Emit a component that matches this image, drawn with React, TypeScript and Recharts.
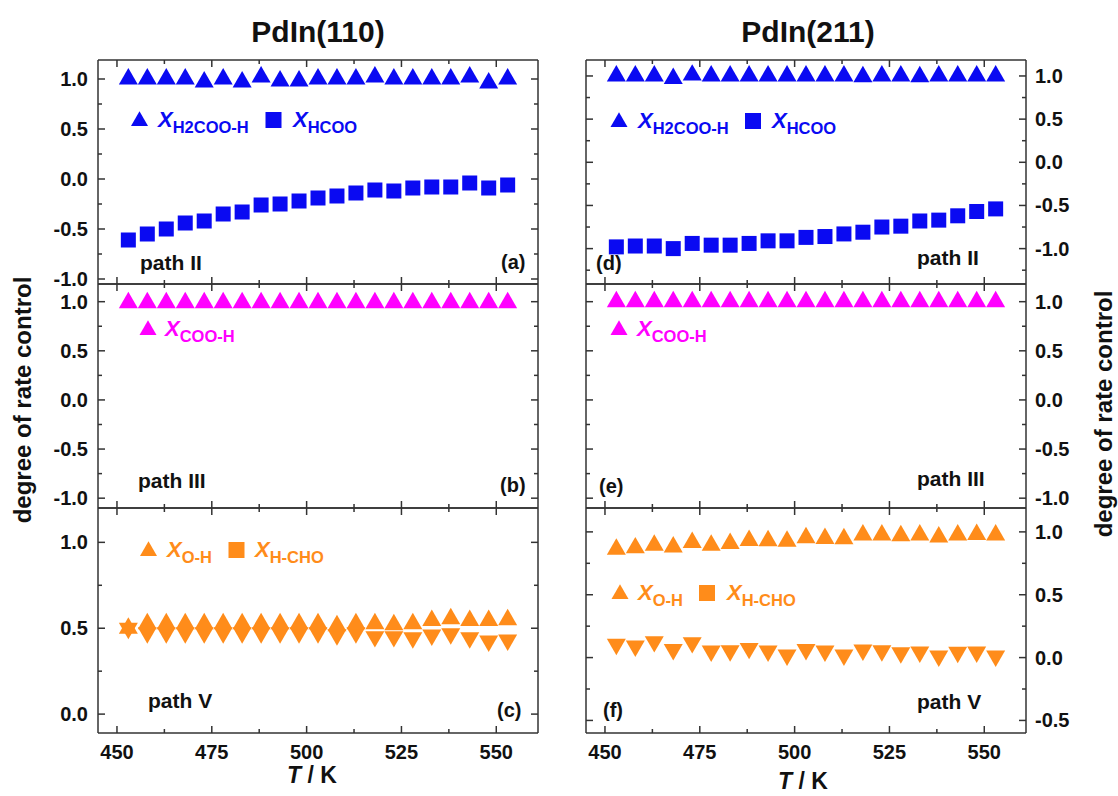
import React from 'react';
import { ScatterChart, Scatter, XAxis, YAxis } from 'recharts';

// temperatures (K) shared by all panels
const T = [453, 458, 463, 468, 473, 478, 483, 488, 493, 498, 503, 508, 513, 518, 523, 528, 533, 538, 543, 548, 553];

// PdIn(110)
const aH2COOH = [1.0, 1.0, 1.0, 1.0, 0.97, 1.0, 0.97, 1.02, 0.98, 0.98, 1.0, 1.0, 1.0, 1.02, 1.0, 1.0, 1.0, 1.0, 1.02, 0.96, 1.0];
const aHCOO = [-0.61, -0.55, -0.5, -0.44, -0.42, -0.35, -0.33, -0.26, -0.25, -0.22, -0.19, -0.17, -0.14, -0.11, -0.12, -0.09, -0.08, -0.08, -0.04, -0.09, -0.06];
const bCOOH = [0.99, 0.99, 0.99, 0.99, 0.99, 0.99, 0.99, 0.99, 0.99, 0.99, 0.99, 0.99, 0.99, 0.99, 0.99, 0.99, 0.99, 0.99, 0.99, 0.99, 0.99];
const cOH = [0.5, 0.526, 0.526, 0.526, 0.526, 0.526, 0.526, 0.526, 0.526, 0.526, 0.526, 0.515, 0.526, 0.526, 0.52, 0.526, 0.545, 0.555, 0.545, 0.545, 0.55];
const cHCHO = [0.5, 0.474, 0.474, 0.474, 0.474, 0.474, 0.474, 0.474, 0.474, 0.474, 0.474, 0.462, 0.474, 0.451, 0.451, 0.445, 0.46, 0.468, 0.445, 0.426, 0.431];

// PdIn(211)
const dH2COOH = [1.0, 1.0, 1.0, 0.97, 1.01, 1.0, 1.0, 1.0, 1.0, 1.0, 1.0, 1.0, 1.0, 0.99, 1.0, 1.0, 0.99, 1.0, 1.0, 1.0, 1.0];
const dHCOO = [-0.98, -0.97, -0.97, -1.0, -0.94, -0.96, -0.96, -0.94, -0.91, -0.91, -0.87, -0.86, -0.83, -0.81, -0.75, -0.74, -0.68, -0.67, -0.62, -0.57, -0.54];
const eCOOH = [1.0, 1.0, 1.0, 1.0, 1.0, 1.0, 1.0, 1.0, 1.0, 1.0, 1.0, 1.0, 1.0, 1.0, 1.0, 1.0, 1.0, 1.0, 1.0, 1.0, 1.0];
const fOH = [0.862, 0.873, 0.894, 0.88, 0.916, 0.894, 0.908, 0.932, 0.93, 0.925, 0.954, 0.948, 0.945, 0.975, 0.975, 0.97, 0.975, 0.96, 0.975, 0.98, 0.975];
const fHCHO = [0.106, 0.092, 0.127, 0.065, 0.119, 0.052, 0.055, 0.073, 0.052, 0.02, 0.065, 0.052, 0.02, 0.06, 0.055, 0.038, 0.045, 0.012, 0.043, 0.045, 0.012];

// axes
const xDomain = [445, 561];
const xTicks = [450, 462.5, 475, 487.5, 500, 512.5, 525, 537.5, 550];
const yTicksFull = [-1, -0.75, -0.5, -0.25, 0, 0.25, 0.5, 0.75, 1];
const yTicksD = [-1.25, -1, -0.75, -0.5, -0.25, 0, 0.25, 0.5, 0.75, 1];
const yTicksC = [0, 0.25, 0.5, 0.75, 1];
const yTicksF = [-0.5, -0.25, 0, 0.25, 0.5, 0.75, 1];

const BLUE = '#0a0af2';
const MAGENTA = '#ff00ff';
const ORANGE = '#ff8c1a';
const FRAME = '#333';
const FONT = 'Arial, "Liberation Sans", Helvetica, sans-serif';

const TRI = 19;
const SQ = 15;
const MAJ = 7;
const MIN = 4;

const mk = (ys: number[]) => T.map((t, i) => ({ t, v: ys[i] }));

const upTri = (color: string, s = TRI) => (p: any) => {
  const h = s * 0.866;
  const { cx, cy } = p;
  return <polygon points={`${cx},${cy - (2 * h) / 3} ${cx - s / 2},${cy + h / 3} ${cx + s / 2},${cy + h / 3}`} fill={color} />;
};
const downTri = (color: string, s = TRI) => (p: any) => {
  const h = s * 0.866;
  const { cx, cy } = p;
  return <polygon points={`${cx},${cy + (2 * h) / 3} ${cx - s / 2},${cy - h / 3} ${cx + s / 2},${cy - h / 3}`} fill={color} />;
};
const square = (color: string) => (p: any) => (
  <rect x={p.cx - SQ / 2} y={p.cy - SQ / 2} width={SQ} height={SQ} fill={color} />
);

const isMajor = (v: number, step: number) => Math.abs(v / step - Math.round(v / step)) < 1e-6;

const tickText = { fontFamily: FONT, fontWeight: 700, fontSize: 20, fill: '#111' };

const xTick = (pos: 'top' | 'bottom', labels: boolean) => (p: any) => {
  const v = p.payload.value;
  const len = isMajor(v, 25) ? MAJ : MIN;
  const dir = pos === 'bottom' ? -1 : 1;
  return (
    <g>
      <line x1={p.x} x2={p.x} y1={p.y} y2={p.y + dir * len} stroke={FRAME} strokeWidth={1.5} />
      {labels && isMajor(v, 25) && (
        <text x={p.x} y={p.y + 26} textAnchor="middle" {...tickText}>{v}</text>
      )}
    </g>
  );
};

const yTick = (pos: 'left' | 'right', labels: boolean) => (p: any) => {
  const v = p.payload.value;
  const len = isMajor(v, 0.5) ? MAJ : MIN;
  const dir = pos === 'left' ? 1 : -1;
  return (
    <g>
      <line x1={p.x} x2={p.x + dir * len} y1={p.y} y2={p.y} stroke={FRAME} strokeWidth={1.5} />
      {labels && isMajor(v, 0.5) && (
        <text x={pos === 'left' ? p.x - 10 : p.x + 9} y={p.y + 7} textAnchor={pos === 'left' ? 'end' : 'start'} {...tickText}>
          {v.toFixed(1)}
        </text>
      )}
    </g>
  );
};

type Series = { data: number[]; shape: any };

function Panel({ x, y, h, domain, yTicks, side, xLabels, series }: {
  x: number; y: number; h: number; domain: number[]; yTicks: number[];
  side: 'left' | 'right'; xLabels: boolean; series: Series[];
}) {
  const W = 440, PX = 60, PT = 30, PB = 40;
  const axisLine = { stroke: FRAME, strokeWidth: 1.5 };
  return (
    <div style={{ position: 'absolute', left: x - PX, top: y - PT }}>
      <ScatterChart width={W + 2 * PX} height={h + PT + PB} margin={{ top: 0, right: 0, bottom: 0, left: 0 }}>
        <XAxis xAxisId="b" orientation="bottom" type="number" dataKey="t" domain={xDomain} ticks={xTicks} interval={0}
          height={PB} axisLine={axisLine} tickLine={false} tickSize={0} tickMargin={0} tick={xTick('bottom', xLabels)} allowDataOverflow />
        <XAxis xAxisId="t" orientation="top" type="number" dataKey="t" domain={xDomain} ticks={xTicks} interval={0}
          height={PT} axisLine={axisLine} tickLine={false} tickSize={0} tickMargin={0} tick={xTick('top', false)} allowDataOverflow />
        <YAxis yAxisId="l" orientation="left" type="number" dataKey="v" domain={domain} ticks={yTicks} interval={0}
          width={PX} axisLine={axisLine} tickLine={false} tickSize={0} tickMargin={0} tick={yTick('left', side === 'left')} allowDataOverflow />
        <YAxis yAxisId="r" orientation="right" type="number" dataKey="v" domain={domain} ticks={yTicks} interval={0}
          width={PX} axisLine={axisLine} tickLine={false} tickSize={0} tickMargin={0} tick={yTick('right', side === 'right')} allowDataOverflow />
        {series.map((s, i) => (
          <Scatter key={i} xAxisId="b" yAxisId="l" data={mk(s.data)} shape={s.shape} isAnimationActive={false} />
        ))}
      </ScatterChart>
    </div>
  );
}

const label = { fontFamily: FONT, fontWeight: 700, fill: '#111' };

function Legend({ items, base, color }: { items: { glyph: 'tri' | 'sq'; gx: number; tx: number; sub: string }[]; base: number; color: string }) {
  const cy = base - 7;
  return (
    <g>
      {items.map((it, i) => (
        <g key={i}>
          {it.glyph === 'tri'
            ? upTri(color, 17)({ cx: it.gx, cy: cy + 1 })
            : <rect x={it.gx - 8} y={cy - 8} width={16} height={16} fill={color} />}
          <text x={it.tx} y={base} fontFamily={FONT} fontWeight={700} fill={color}>
            <tspan fontStyle="italic" fontSize={22}>X</tspan>
            <tspan fontSize={16.5} dy={6}>{it.sub}</tspan>
          </text>
        </g>
      ))}
    </g>
  );
}

export default function App() {
  return (
    <div style={{ position: 'absolute', left: 0, top: 0, width: 1118, height: 796, background: '#fff' }}>
      <Panel x={98} y={60} h={224} domain={[-1.05, 1.19]} yTicks={yTicksFull} side="left" xLabels={false}
        series={[{ data: aH2COOH, shape: upTri(BLUE) }, { data: aHCOO, shape: square(BLUE) }]} />
      <Panel x={98} y={284} h={224} domain={[-1.1, 1.18]} yTicks={yTicksFull} side="left" xLabels={false}
        series={[{ data: bCOOH, shape: upTri(MAGENTA) }]} />
      <Panel x={98} y={508} h={225} domain={[-0.11, 1.2]} yTicks={yTicksC} side="left" xLabels={true}
        series={[{ data: cHCHO, shape: downTri(ORANGE) }, { data: cOH, shape: upTri(ORANGE) }]} />

      <Panel x={586} y={60} h={224} domain={[-1.41, 1.185]} yTicks={yTicksD} side="right" xLabels={false}
        series={[{ data: dH2COOH, shape: upTri(BLUE) }, { data: dHCOO, shape: square(BLUE) }]} />
      <Panel x={586} y={284} h={224} domain={[-1.1, 1.18]} yTicks={yTicksFull} side="right" xLabels={false}
        series={[{ data: eCOOH, shape: upTri(MAGENTA) }]} />
      <Panel x={586} y={508} h={225} domain={[-0.6, 1.19]} yTicks={yTicksF} side="right" xLabels={true}
        series={[{ data: fHCHO, shape: downTri(ORANGE) }, { data: fOH, shape: upTri(ORANGE) }]} />

      <svg width={1118} height={796} style={{ position: 'absolute', left: 0, top: 0, pointerEvents: 'none' }}>
        <text x={318} y={42} textAnchor="middle" fontSize={30} {...label}>PdIn(110)</text>
        <text x={808} y={42} textAnchor="middle" fontSize={30} {...label}>PdIn(211)</text>

        <text transform="translate(22,400) rotate(-90)" textAnchor="middle" dominantBaseline="central" fontSize={24} {...label}>degree of rate control</text>
        <text transform="translate(1103,414) rotate(-90)" textAnchor="middle" dominantBaseline="central" fontSize={24} {...label}>degree of rate control</text>

        <text x={312} y={783} textAnchor="middle" fontSize={23} {...label}><tspan fontStyle="italic">T</tspan> / K</text>
        <text x={803} y={789} textAnchor="middle" fontSize={23} {...label}><tspan fontStyle="italic">T</tspan> / K</text>

        <text x={140} y={270} fontSize={21} {...label}>path II</text>
        <text x={501} y={269} fontSize={20} {...label}>(a)</text>
        <text x={138} y={488} fontSize={21} {...label}>path III</text>
        <text x={500} y={492} fontSize={20} {...label}>(b)</text>
        <text x={148} y={708} fontSize={21} {...label}>path V</text>
        <text x={497} y={717} fontSize={20} {...label}>(c)</text>

        <text x={596} y={270} fontSize={20} {...label}>(d)</text>
        <text x={917} y={265} fontSize={21} {...label}>path II</text>
        <text x={599} y={493} fontSize={20} {...label}>(e)</text>
        <text x={917} y={486} fontSize={21} {...label}>path III</text>
        <text x={603} y={717} fontSize={20} {...label}>(f)</text>
        <text x={917} y={709} fontSize={21} {...label}>path V</text>

        <Legend color={BLUE} base={127} items={[{ glyph: 'tri', gx: 139.5, tx: 158, sub: 'H2COO-H' }, { glyph: 'sq', gx: 273.5, tx: 293, sub: 'HCOO' }]} />
        <Legend color={MAGENTA} base={336} items={[{ glyph: 'tri', gx: 148, tx: 165, sub: 'COO-H' }]} />
        <Legend color={ORANGE} base={557} items={[{ glyph: 'tri', gx: 148.5, tx: 167, sub: 'O-H' }, { glyph: 'sq', gx: 236.5, tx: 255, sub: 'H-CHO' }]} />

        <Legend color={BLUE} base={128} items={[{ glyph: 'tri', gx: 619, tx: 638, sub: 'H2COO-H' }, { glyph: 'sq', gx: 753, tx: 772, sub: 'HCOO' }]} />
        <Legend color={MAGENTA} base={336} items={[{ glyph: 'tri', gx: 619, tx: 637, sub: 'COO-H' }]} />
        <Legend color={ORANGE} base={600} items={[{ glyph: 'tri', gx: 620, tx: 638, sub: 'O-H' }, { glyph: 'sq', gx: 707, tx: 727, sub: 'H-CHO' }]} />
      </svg>
    </div>
  );
}
